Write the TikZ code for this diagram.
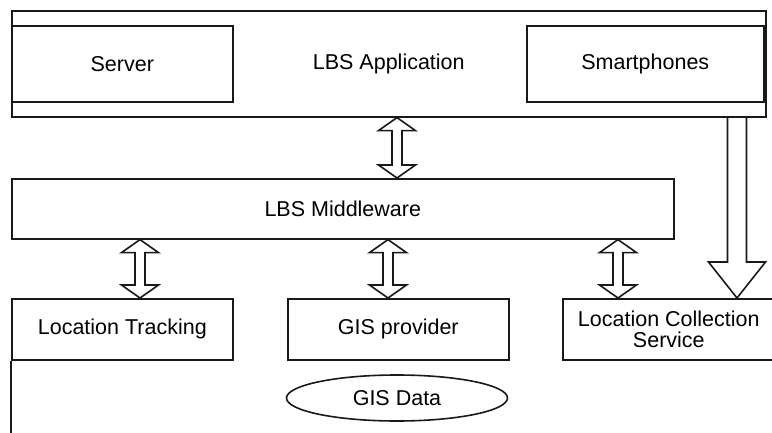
\documentclass[tikz,border=0pt]{standalone}
\usepackage{fontspec}
\setmainfont{Liberation Sans}
\usetikzlibrary{shapes.geometric,calc}

\tikzset{
  box/.style={draw=black!90, line width=1.6pt, rectangle, inner sep=0pt, anchor=north west,
              font=\fontsize{21.5}{24}\selectfont, align=center},
  blob/.style={draw=black!90, line width=1.6pt, ellipse, inner sep=0pt,
              font=\fontsize{21.5}{24}\selectfont},
  wire/.style={draw=black!90, line width=1.6pt, line join=miter},
}

% two-headed hollow arrow between two points (tip at #1 on top, tip at #2 below)
\newcommand\hollowdouble[2]{%
  \path[wire] let \p1=(#1), \p2=(#2) in
    (\x1,\y1) -- (\x1+18.5pt,\y1-13pt) -- (\x1+5pt,\y1-13pt) -- (\x1+5pt,\y2+13pt)
    -- (\x1+18.5pt,\y2+13pt) -- (\x2,\y2) -- (\x1-18.5pt,\y2+13pt) -- (\x1-5pt,\y2+13pt)
    -- (\x1-5pt,\y1-13pt) -- (\x1-18.5pt,\y1-13pt) -- cycle;}

\begin{document}
\begin{tikzpicture}[x=1pt,y=-1pt]
  \useasboundingbox (0,0) rectangle (772,432);

  % application layer
  \node[box, minimum width=754pt, minimum height=106pt] (app) at (11,10) {LBS Application};
  \node[box, minimum width=221pt, minimum height=76pt] (server) at (11,25) {Server};
  \node[box, minimum width=237pt, minimum height=76pt] (phones) at (526,25) {Smartphones};

  % middleware
  \node[box, minimum width=662pt, minimum height=60pt] (mw) at (11,178) {LBS Middleware};

  % service layer
  \node[box, minimum width=221pt, minimum height=61pt] (lt) at (11,298) {Location Tracking};
  \node[box, minimum width=221pt, minimum height=61pt] (gis) at (287,298) {GIS provider};
  \node[box, minimum width=212pt, minimum height=61pt] (lcs) at (562,298) {Location Collection\\[-3pt]Service};
  \node[blob, minimum width=221pt, minimum height=46pt] (gisdata) at (397,398) {GIS Data};

  \coordinate (frameend) at (11,440);
  \path[wire] (lt.south west) -- (frameend);

  % two-headed links
  \coordinate (a1t) at (app.south -| 397,0);
  \coordinate (a1b) at (mw.north -| 397,0);
  \hollowdouble{a1t}{a1b}

  \coordinate (a2t) at (mw.south -| 140,0);
  \coordinate (a2b) at (lt.north -| 140,0);
  \hollowdouble{a2t}{a2b}

  \coordinate (a3t) at (mw.south -| 388,0);
  \coordinate (a3b) at (gis.north -| 388,0);
  \hollowdouble{a3t}{a3b}

  \coordinate (a4t) at (mw.south -| 618,0);
  \coordinate (a4b) at (lcs.north -| 618,0);
  \hollowdouble{a4t}{a4b}

  % wide one-way arrow from the phones down to the collection service
  \coordinate (bt) at (app.south -| 737,0);
  \coordinate (bb) at (lcs.north -| 737,0);
  \path[wire] let \p1=(bt), \p2=(bb) in
    (\x1-9.5pt,\y1) -- (\x1-9.5pt,\y2+36pt) -- (\x1-28.5pt,\y2+36pt) -- (\x2,\y2)
    -- (\x1+28.5pt,\y2+36pt) -- (\x1+9.5pt,\y2+36pt) -- (\x1+9.5pt,\y1);
\end{tikzpicture}
\end{document}
